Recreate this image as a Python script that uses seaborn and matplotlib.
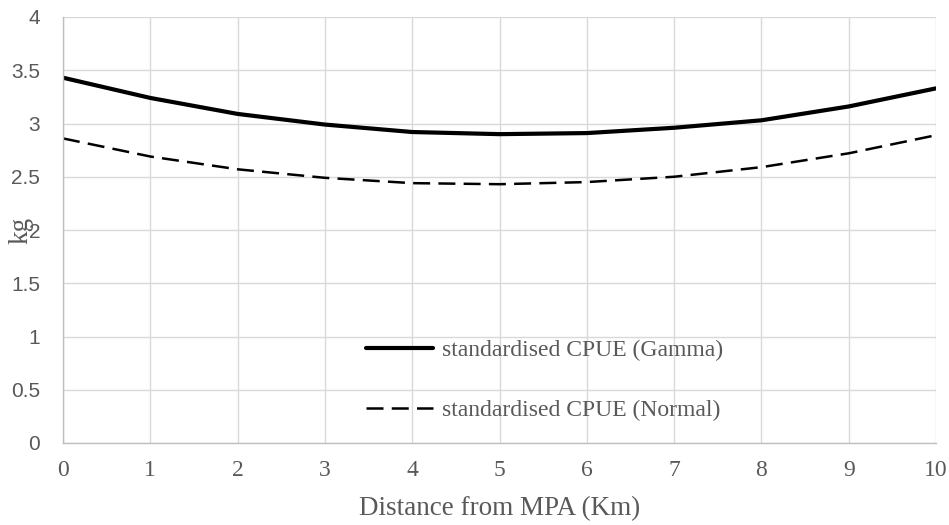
import matplotlib
matplotlib.use("Agg")
import matplotlib.pyplot as plt
import seaborn as sns
import pandas as pd

distance_km = [0, 1, 2, 3, 4, 5, 6, 7, 8, 9, 10]
cpue_gamma = [3.43, 3.24, 3.09, 2.99, 2.92, 2.90, 2.91, 2.96, 3.03, 3.16, 3.33]
cpue_normal = [2.86, 2.69, 2.57, 2.49, 2.44, 2.43, 2.45, 2.50, 2.59, 2.72, 2.89]
series_names = ["standardised CPUE (Gamma)", "standardised CPUE (Normal)"]
y_ticks = [0, 0.5, 1, 1.5, 2, 2.5, 3, 3.5, 4]
y_tick_labels = ["0", "0.5", "1", "1.5", "2", "2.5", "3", "3.5", "4"]
x_ticks = distance_km

sns.set_theme(style="white")

df = pd.DataFrame({
    "x": distance_km * 2,
    "y": cpue_gamma + cpue_normal,
    "series": [series_names[0]] * len(distance_km) + [series_names[1]] * len(distance_km),
})

fig = plt.figure(figsize=(9.49, 5.25), dpi=100)
ax = fig.add_axes([63/949, 1-443/525, 873/949, 426/525])

sns.lineplot(data=df[df.series == series_names[0]], x="x", y="y", ax=ax,
             color="black", linewidth=3.0, label=series_names[0])
sns.lineplot(data=df[df.series == series_names[1]], x="x", y="y", ax=ax,
             color="black", linewidth=1.8, linestyle=(0, (6.8, 3.3)), label=series_names[1])

ax.set_xlim(0, 10)
ax.set_ylim(0, 4)
ax.set_xticks(x_ticks)
ax.set_xticklabels([str(v) for v in x_ticks], fontfamily="Liberation Serif",
                   fontsize=17, color="#595959")
ax.set_yticks(y_ticks)
ax.set_yticklabels(y_tick_labels, fontfamily="Liberation Sans", fontsize=15,
                   color="#595959")
ax.tick_params(axis="x", length=0, pad=12)
ax.tick_params(axis="y", length=0, pad=16.5)

ax.grid(True, color="#d9d9d9", linewidth=1.0)
ax.set_axisbelow(True)
for side in ["top", "right"]:
    ax.spines[side].set_visible(False)
for side in ["left", "bottom"]:
    ax.spines[side].set_color("#bfbfbf")
    ax.spines[side].set_linewidth(1.0)

ax.set_xlabel("Distance from MPA (Km)", fontfamily="Liberation Serif",
              fontsize=19.5, color="#595959", labelpad=11)
ax.set_ylabel("kg", fontfamily="Liberation Serif", fontsize=19.5, color="#595959")
ax.yaxis.set_label_coords(-0.034, 0.5)

leg = ax.legend(loc="upper left", bbox_to_anchor=((357-63)/873, (443-330)/426),
                frameon=False, prop={"family": "Liberation Serif", "size": 17},
                handlelength=2.8, handletextpad=0.4, labelspacing=1.63,
                borderaxespad=0)
for t in leg.get_texts():
    t.set_color("#595959")

fig.savefig("out.png", dpi=100)
